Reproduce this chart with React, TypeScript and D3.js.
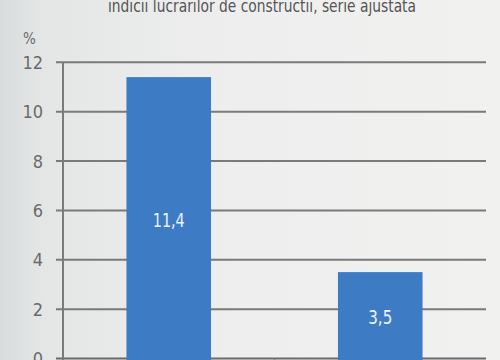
import React from "react";
import * as d3 from "d3";

const categories = ["A", "B"];
const values = [11.4, 3.5];
const valueLabels = ["11,4", "3,5"];
const yTicks = [0, 2, 4, 6, 8, 10, 12];
const title = "indicii lucrarilor de constructii, serie ajustata";

const W = 500;
const H = 360;
const FONT = "'DejaVu Sans Condensed', 'Liberation Sans Narrow', 'Roboto', sans-serif";

export default function App() {
  const x0 = 63;
  const x1 = 486;
  const y = d3.scaleLinear().domain([0, 12]).range([358.5, 62.3]);
  const x = d3
    .scaleBand<string>()
    .domain(categories)
    .range([x0, x1])
    .paddingInner(0.6)
    .paddingOuter(0.3);
  const step = x.step();
  const sepX = categories.slice(1).map((c) => (x(c) as number) - (step * x.paddingInner()) / 2);

  return (
    <svg
      width={W}
      height={H}
      style={{ position: "absolute", left: 0, top: 0, display: "block" }}
      xmlns="http://www.w3.org/2000/svg"
    >
      <defs>
        <linearGradient id="bg" x1="0" y1="0" x2="1" y2="0">
          <stop offset="0" stopColor="#d8dcdd" />
          <stop offset="0.08" stopColor="#e4e6e6" />
          <stop offset="0.45" stopColor="#eeeeee" />
          <stop offset="1" stopColor="#f1f1f0" />
        </linearGradient>
      </defs>
      <rect x={0} y={0} width={W} height={H} fill="url(#bg)" />
      <text
        x={262}
        y={12}
        textAnchor="middle"
        fontFamily={FONT}
        fontSize={18}
        textLength={308}
        lengthAdjust="spacingAndGlyphs"
        fill="#555555"
      >
        {title}
      </text>
      <text x={23} y={44} fontFamily={FONT} fontSize={15} fill="#6a6a6a">
        %
      </text>
      {yTicks.map((t) => (
        <g key={t}>
          <line
            x1={56}
            x2={x1}
            y1={y(t)}
            y2={y(t)}
            stroke={t === 0 ? "#6a6a6a" : "#7a7a7a"}
            strokeWidth={2}
          />
          <text
            x={43}
            y={y(t)}
            dy="0.36em"
            textAnchor="end"
            fontFamily={FONT}
            fontSize={18}
            fill="#6a6a6a"
          >
            {t}
          </text>
        </g>
      ))}
      <line x1={x0} x2={x0} y1={y(12)} y2={H} stroke="#7a7a7a" strokeWidth={2} />
      {sepX.map((s, i) => (
        <line key={i} x1={s} x2={s} y1={y(0)} y2={H} stroke="#7a7a7a" strokeWidth={1} />
      ))}
      {categories.map((c, i) => {
        const bx = x(c) as number;
        const top = y(values[i]);
        const bottom = y(0);
        return (
          <g key={c}>
            <rect x={bx} y={top} width={x.bandwidth()} height={bottom - top + 2} fill="#3d7cc4" />
            <text
              x={bx + x.bandwidth() / 2}
              y={(top + bottom) / 2 + 2}
              dy="0.36em"
              textAnchor="middle"
              fontFamily={FONT}
              fontSize={19}
              textLength={valueLabels[i].length * 8}
              lengthAdjust="spacingAndGlyphs"
              fill="#eef3fa"
            >
              {valueLabels[i]}
            </text>
          </g>
        );
      })}
    </svg>
  );
}
